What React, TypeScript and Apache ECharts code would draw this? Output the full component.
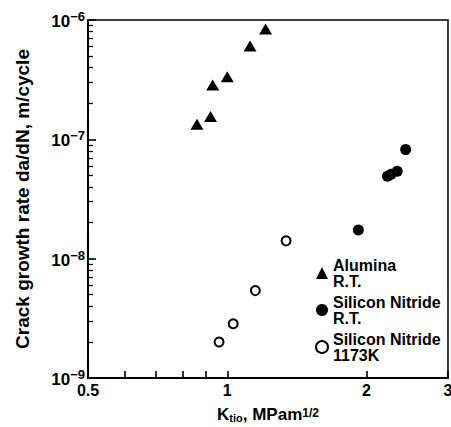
import React, { useEffect, useRef } from "react";
import * as echarts from "echarts";

const FONT = '"Liberation Sans", Arial, Helvetica, sans-serif';

const seriesNames = ["Alumina\nR.T.", "Silicon Nitride\nR.T.", "Silicon Nitride\n1173K"];

const aluminaK = [0.86, 0.92, 0.93, 1.0, 1.12, 1.21];
const aluminaRate = [1.34e-7, 1.55e-7, 2.85e-7, 3.35e-7, 6.05e-7, 8.4e-7];

const sinRtK = [1.92, 2.22, 2.26, 2.33, 2.43];
const sinRtRate = [1.74e-8, 4.9e-8, 5.1e-8, 5.4e-8, 8.2e-8];

const sinHotK = [0.96, 1.03, 1.15, 1.34];
const sinHotRate = [2.0e-9, 2.85e-9, 5.4e-9, 1.41e-8];

const xMin = 0.5;
const xMax = 3;
const yMin = 1e-9;
const yMax = 1e-6;
const xTickValues = [0.5, 0.6, 0.7, 0.8, 0.9, 1, 2, 3];
const xLabelValues = [0.5, 1, 2, 3];
const yMajorValues = [1e-9, 1e-8, 1e-7, 1e-6];
const yMinorMultipliers = [2, 3, 4, 5, 6, 7, 8, 9];

const pairs = (xs: number[], ys: number[]) => xs.map((x, i) => [x, ys[i]]);

export default function App() {
  const ref = useRef<HTMLDivElement>(null);
  useEffect(() => {
    if (!ref.current) return;
    const chart = echarts.init(ref.current, undefined, { renderer: "svg" });
    const yMinor: number[] = [];
    [1e-9, 1e-8, 1e-7].forEach((d) => yMinorMultipliers.forEach((m) => yMinor.push(m * d)));
    const lg = (v: number) => Math.log10(v);
    const black = "#000";
    const tickAxisY = (values: number[], length: number, width: number) => ({
      type: "value",
      min: lg(yMin),
      max: lg(yMax),
      position: "left",
      axisLine: { show: false, onZero: false },
      axisTick: {
        show: true,
        inside: true,
        length,
        lineStyle: { color: black, width },
        customValues: values.map(lg),
      },
      splitLine: { show: false },
      axisLabel: { show: false },
    });
    chart.setOption({
      animation: false,
      backgroundColor: "#fff",
      textStyle: { fontFamily: FONT },
      grid: {
        left: 88,
        top: 20,
        right: 3,
        bottom: 49,
        outerBoundsMode: "none",
        containLabel: false,
        show: true,
        borderColor: black,
        borderWidth: 1.5,
      },
      legend: {
        orient: "vertical",
        left: 310,
        top: 252,
        itemGap: 5,
        itemWidth: 12,
        itemHeight: 12,
        textStyle: {
          fontFamily: FONT,
          fontSize: 16,
          fontWeight: "bold",
          color: black,
          lineHeight: 16,
        },
        data: seriesNames,
      },
      xAxis: [
        {
          type: "log",
          logBase: 10,
          min: xMin,
          max: xMax,
          position: "bottom",
          axisLine: { show: true, onZero: false, lineStyle: { color: black, width: 2 } },
          axisTick: { show: false },
          minorTick: { show: false },
          splitLine: { show: false },
          axisLabel: {
            customValues: xLabelValues,
            formatter: (v: number) => String(Math.round(v * 10) / 10),
            color: black,
            fontFamily: FONT,
            fontSize: 16,
            fontWeight: "bold",
            margin: 4,
          },
          name: "{n|K}{sub|tio}{n|, MPam}{sup|1/2}",
          nameLocation: "middle",
          nameGap: 29,
          nameTextStyle: {
            rich: {
              n: { fontSize: 17, fontWeight: "bold", fontFamily: FONT, color: black, lineHeight: 16, verticalAlign: "bottom" },
              sub: { fontSize: 11, fontWeight: "bold", fontFamily: FONT, color: black, lineHeight: 10, verticalAlign: "bottom" },
              sup: { fontSize: 12, fontWeight: "bold", fontFamily: FONT, color: black, lineHeight: 12, verticalAlign: "top" },
            },
          },
        },
        {
          type: "value",
          min: lg(xMin),
          max: lg(xMax),
          position: "bottom",
          axisLine: { show: false, onZero: false },
          axisTick: {
            show: true,
            inside: true,
            length: 7,
            lineStyle: { color: black, width: 1.6 },
            customValues: xTickValues.map(lg),
          },
          splitLine: { show: false },
          axisLabel: { show: false },
        },
      ],
      yAxis: [
        {
          type: "log",
          logBase: 10,
          min: yMin,
          max: yMax,
          position: "left",
          axisLine: { show: true, onZero: false, lineStyle: { color: black, width: 2 } },
          axisTick: { show: false },
          minorTick: { show: false },
          splitLine: { show: false },
          axisLabel: {
            customValues: yMajorValues,
            margin: 3,
            formatter: (v: number) => `{b|10}{s|−${Math.round(-Math.log10(v))}}`,
            rich: {
              b: { fontSize: 17, fontWeight: "bold", fontFamily: FONT, color: black, lineHeight: 20, verticalAlign: "bottom", padding: [6, 0, 0, 0] },
              s: { fontSize: 13, fontWeight: "bold", fontFamily: FONT, color: black, lineHeight: 13, verticalAlign: "top" },
            },
          },
          name: "Crack growth rate da/dN, m/cycle",
          nameLocation: "middle",
          nameGap: 56,
          nameTextStyle: {
            fontFamily: FONT,
            fontSize: 19,
            fontWeight: "bold",
            color: black,
          },
        },
        tickAxisY(yMajorValues, 8, 1.6),
        tickAxisY(yMinor, 5, 1.3),
      ],
      series: [
        {
          name: seriesNames[0],
          type: "scatter",
          symbol: "triangle",
          symbolSize: [13, 11],
          itemStyle: { color: black, opacity: 1 },
          data: pairs(aluminaK, aluminaRate),
        },
        {
          name: seriesNames[1],
          type: "scatter",
          symbol: "circle",
          symbolSize: 11,
          itemStyle: { color: black, opacity: 1 },
          data: pairs(sinRtK, sinRtRate),
        },
        {
          name: seriesNames[2],
          type: "scatter",
          symbol: "circle",
          symbolSize: 9,
          itemStyle: { color: "#fff", borderColor: black, borderWidth: 2, opacity: 1 },
          data: pairs(sinHotK, sinHotRate),
        },
      ],
    });
    return () => chart.dispose();
  }, []);
  return (
    <div
      ref={ref}
      style={{ position: "fixed", left: 0, top: 0, width: 451, height: 427 }}
    />
  );
}
